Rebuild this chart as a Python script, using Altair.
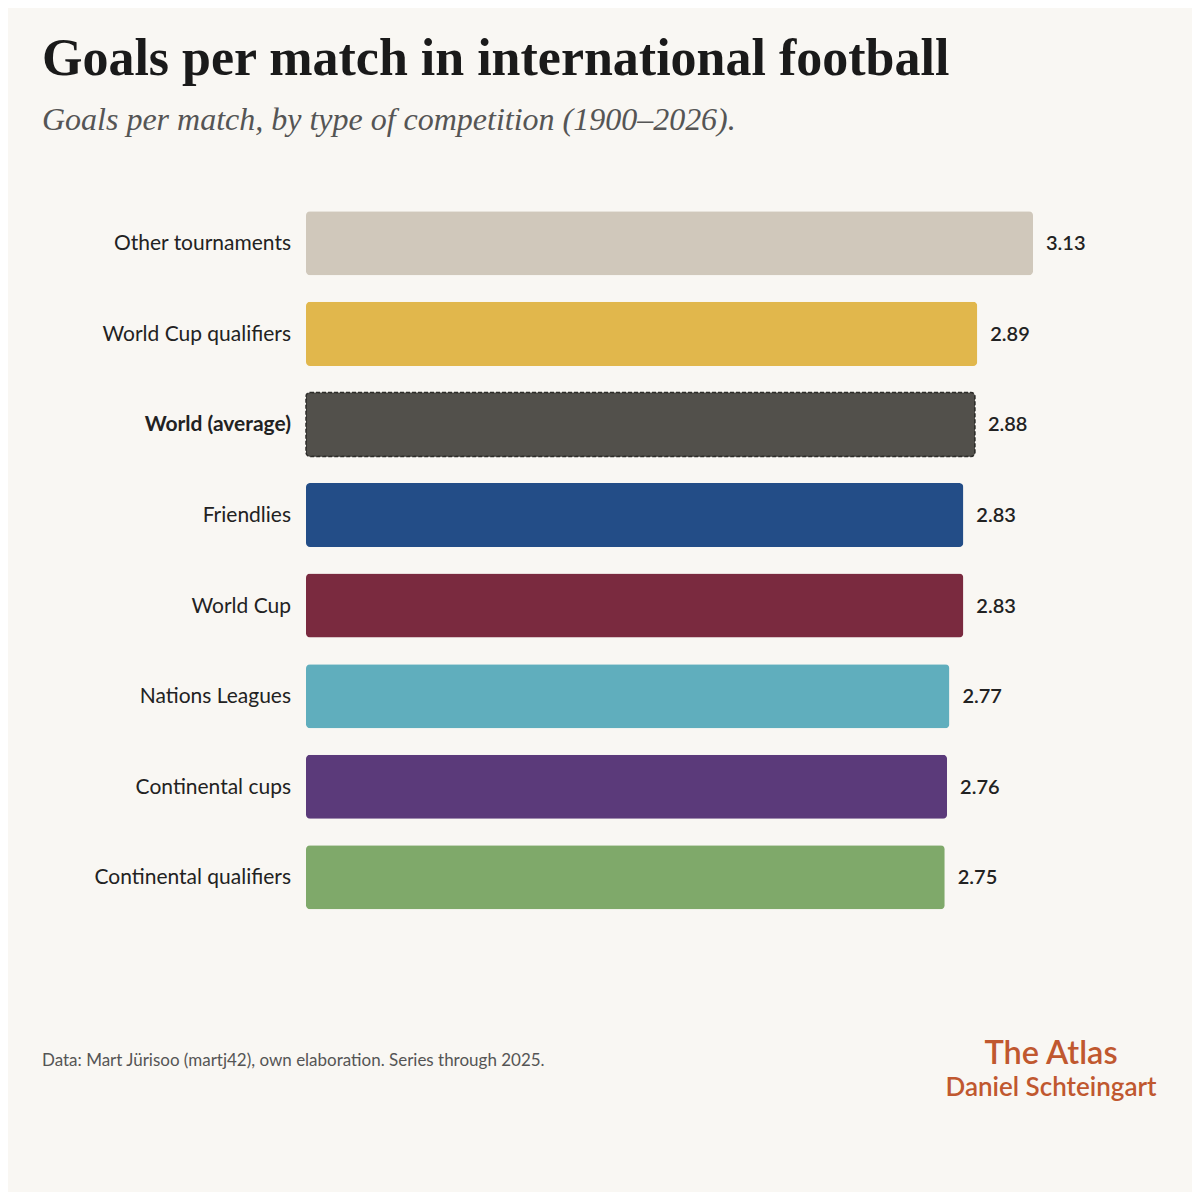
import altair as alt
import pandas as pd

categories = ["Other tournaments", "World Cup qualifiers", "World (average)", "Friendlies",
              "World Cup", "Nations Leagues", "Continental cups", "Continental qualifiers"]
values = [3.13, 2.89, 2.88, 2.83, 2.83, 2.77, 2.76, 2.75]
colors = ["#d0c8bb", "#e1b74c", "#52504b", "#234d87", "#7a2a3f", "#60aebd", "#5b3a7a", "#7fa96a"]
value_labels = ["3.13", "2.89", "2.88", "2.83", "2.83", "2.77", "2.76", "2.75"]

title = "Goals per match in international football"
subtitle = "Goals per match, by type of competition (1900\u20132026)."
source = "Data: Mart J\u00fcrisoo (martj42), own elaboration. Series through 2025."
brand = "The Atlas"
author = "Daniel Schteingart"

df = pd.DataFrame({"cat": categories, "val": values, "color": colors, "lab": value_labels})
df["bold"] = df["cat"] == "World (average)"

BG = "#f9f7f3"
SANS = "Lato"
SERIF = "Liberation Serif"

y = alt.Y("cat:N", sort=categories, axis=None,
          scale=alt.Scale(paddingInner=0.293, paddingOuter=0.1465))
x = alt.X("val:Q", axis=None, scale=alt.Scale(domain=[0, 3.13], nice=False, zero=True))

base = alt.Chart(df)

bars = base.mark_bar(cornerRadius=4).encode(
    x=x, y=y, color=alt.Color("color:N", scale=None)
)

world = base.transform_filter("datum.bold").mark_bar(
    cornerRadius=4, fill="#52504b", stroke="#2e2d2a", strokeWidth=1.5, strokeDash=[4, 2]
).encode(x=x, y=y)

vals = base.mark_text(align="left", baseline="middle", dx=13, dy=1, fontSize=20,
                      fontWeight=600, font=SANS, color="#222222").encode(
    x=x, y=y, text="lab:N"
)

cats = base.transform_filter("!datum.bold").mark_text(
    align="right", baseline="middle", dy=1, fontSize=21, font=SANS, color="#222222").encode(
    x=alt.value(-15), y=y, text="cat:N"
)
cats_b = base.transform_filter("datum.bold").mark_text(
    align="right", baseline="middle", dy=1, fontSize=21, font=SANS, fontWeight="bold",
    color="#222222").encode(
    x=alt.value(-15), y=y, text="cat:N"
)

def txt(s, xv, yv, **kw):
    return alt.Chart(pd.DataFrame({"t": [s]})).mark_text(baseline="alphabetic", **kw).encode(
        x=alt.value(xv), y=alt.value(yv), text="t:N")

t_title = txt(title, -264, -123, align="left", font=SERIF, fontSize=52, fontWeight="bold", color="#1a1a1a")
t_sub = txt(subtitle, -264, -68, align="left", font=SERIF, fontSize=32, fontStyle="italic", color="#555555")
t_src = txt(source, -264, 868, align="left", font=SANS, fontSize=17, color="#555555")
t_brand = txt(brand, 745, 866, align="center", font=SANS, fontSize=32.5, fontWeight=600, color="#c0582f")
t_author = txt(author, 745, 898, align="center", font=SANS, fontSize=26, fontWeight=600, color="#c0582f")

chart = alt.layer(bars, world, vals, cats, cats_b, t_title, t_sub, t_src, t_brand, t_author).properties(
    width=727, height=724.6,
    autosize=alt.AutoSizeParams(type="none"),
    padding={"left": 298, "top": 190, "right": 159, "bottom": 269},
    background=BG,
).configure_view(stroke=None)

chart.save("out.html", embed_options={"renderer": "svg", "actions": False})
